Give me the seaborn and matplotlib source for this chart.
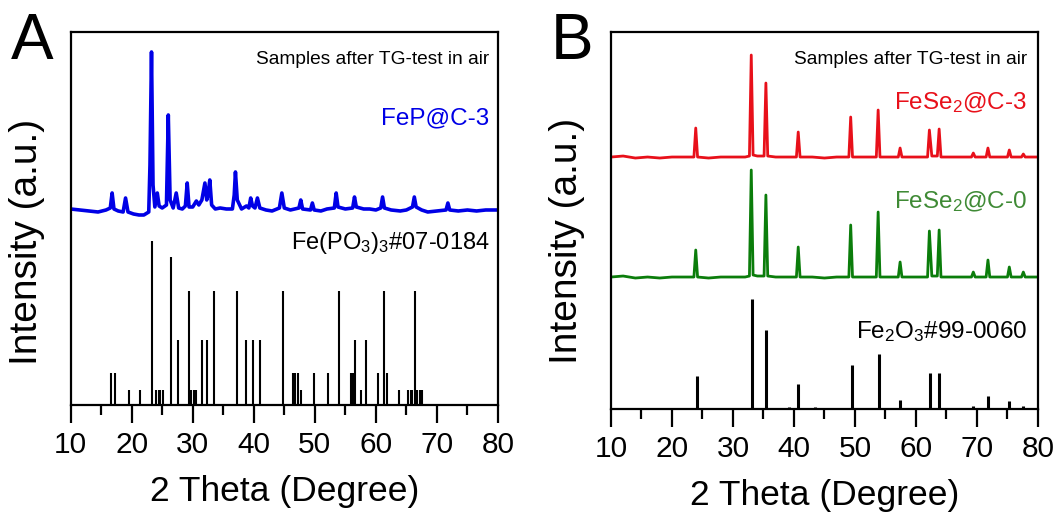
import numpy as np
import pandas as pd
import matplotlib
matplotlib.use("Agg")
import matplotlib.pyplot as plt
from matplotlib.ticker import MultipleLocator
import seaborn as sns

# ---------------- data ----------------
# Panel A: FeP@C-3 sample pattern (2theta, intensity a.u.)
fep_theta = [10, 11.5, 13, 14.5, 15.8, 16.5, 16.8, 17.1, 17.8, 18.6, 19.0, 19.4, 20.3, 21.2,
             22.0, 22.8, 23.0, 23.25, 23.5, 23.8, 24.2, 24.5, 25.0, 25.7, 26.0, 26.3, 26.8,
             27.3, 27.7, 28.3, 28.8, 29.1, 29.4, 30.0, 30.6, 31.0, 31.5, 32.0, 32.3, 32.5,
             32.8, 33.1, 33.7, 34.5, 35.5, 36.5, 36.8, 37.0, 37.3, 38.0, 38.8, 39.2, 39.5,
             39.8, 40.2, 40.6, 41.0, 42.0, 43.0, 44.2, 44.6, 45.0, 46.0, 47.4, 47.7, 48.0,
             49.3, 49.6, 49.9, 51.0, 52.0, 53.2, 53.5, 53.8, 55.0, 56.2, 56.5, 56.8, 58.0,
             59.0, 60.0, 60.8, 61.1, 61.4, 62.5, 64.0, 65.0, 66.0, 66.3, 66.6, 67.5, 68.5,
             70.0, 71.5, 71.8, 72.1, 73.5, 75.0, 76.5, 78.0, 80.0]
fep_int = [196, 195, 194, 193, 195, 197, 212, 196, 194, 193, 207, 193, 191, 190,
           190, 193, 240, 353, 220, 198, 212, 199, 197, 200, 290, 205, 197,
           212, 197, 196, 199, 222, 198, 198, 204, 200, 205, 222, 205, 210,
           225, 200, 196, 197, 196, 196, 210, 233, 205, 196, 199, 197, 207,
           199, 197, 207, 197, 195, 194, 197, 212, 197, 195, 197, 205, 196,
           195, 202, 195, 194, 196, 197, 212, 198, 196, 197, 208, 198, 196,
           196, 195, 197, 208, 197, 195, 194, 195, 198, 208, 198, 195, 193,
           194, 195, 202, 195, 194, 195, 194, 195, 195]

# Panel A: Fe(PO3)3 #07-0184 reference sticks
fepo_theta = [16.6, 17.3, 19.5, 21.3, 23.4, 24.0, 24.4, 24.7, 25.2, 26.4, 27.6, 29.4, 29.8,
              30.2, 30.6, 31.6, 32.3, 33.5, 37.3, 38.8, 39.8, 41.0, 44.8, 46.4, 46.8, 47.3,
              47.8, 49.9, 52.2, 53.9, 56.0, 56.3, 56.6, 57.6, 58.4, 60.4, 61.4, 61.9, 63.8,
              65.2, 65.7, 66.0, 66.4, 66.8, 67.2, 67.6]
fepo_int = [32, 32, 15, 15, 164, 15, 15, 15, 15, 148, 65, 114, 15,
            15, 15, 65, 65, 114, 114, 65, 65, 65, 114, 32, 32, 32,
            15, 32, 32, 114, 32, 32, 65, 15, 65, 32, 114, 32, 15,
            15, 15, 15, 114, 15, 15, 15]

# Panel B: shared 2theta sampling for the two sample patterns
fese_theta = [10, 12, 14, 16, 18, 20, 22, 23.6, 23.9, 24.2, 26, 28, 30, 32, 32.7, 33.0, 33.3,
              34.0, 35.1, 35.4, 35.7, 37, 39, 40.4, 40.7, 41.0, 43, 45, 47, 49.0, 49.3, 49.6,
              51, 53.5, 53.8, 54.1, 56, 57.1, 57.4, 57.7, 59, 61, 61.9, 62.2, 62.6, 63.5, 63.8,
              64.1, 66, 69.1, 69.4, 69.7, 71.5, 71.8, 72.1, 74, 75.0, 75.3, 75.6, 77.3, 77.6,
              77.9, 80]
fese3_int = [252, 253, 251, 252, 251, 252, 252, 252, 281, 252, 251, 252, 252, 252, 253, 354, 254,
             253, 253, 326, 253, 252, 252, 252, 277, 252, 252, 251, 252, 252, 292, 252,
             252, 252, 299, 252, 252, 252, 261, 252, 252, 252, 252, 279, 253, 253, 280,
             252, 252, 252, 256, 252, 252, 261, 252, 252, 252, 259, 252, 252, 255,
             252, 252]
fese0_int = [132, 133, 131, 132, 131, 132, 132, 132, 159, 132, 131, 132, 132, 132, 133, 239, 134,
             133, 133, 214, 133, 132, 132, 132, 162, 132, 132, 131, 132, 132, 184, 132,
             132, 132, 197, 132, 132, 132, 147, 132, 132, 132, 132, 178, 133, 133, 179,
             132, 132, 132, 137, 132, 132, 149, 132, 132, 132, 142, 132, 132, 137,
             132, 132]

# Panel B: Fe2O3 #99-0060 reference sticks
fe2o3_theta = [24.05, 33.07, 35.4, 39.2, 40.7, 43.4, 49.5, 53.9, 57.4, 62.3, 63.8, 69.4, 71.8, 75.3, 77.6]
fe2o3_int = [33, 110, 79, 2, 25, 2, 44, 55, 9, 36, 36, 3, 13, 8, 3]

xticks = [10, 20, 30, 40, 50, 60, 70, 80]

# ---------------- style ----------------
sns.set_style("ticks")
plt.rcParams["font.family"] = ["Liberation Sans", "DejaVu Sans"]
plt.rcParams["mathtext.fontset"] = "custom"
plt.rcParams["mathtext.rm"] = "Liberation Sans"
plt.rcParams["mathtext.default"] = "regular"
plt.rcParams["text.color"] = "black"
plt.rcParams["axes.labelcolor"] = "black"
plt.rcParams["xtick.color"] = "black"
plt.rcParams["ytick.color"] = "black"

BLUE = "#0000e6"
RED = "#e8101a"
GREEN = "#0b7d0b"
GREEN_TXT = "#3f8a35"

fig = plt.figure(figsize=(10.57, 5.15), dpi=100)
axA = fig.add_axes([0.0668, 0.2136, 0.4043, 0.7243])
axB = fig.add_axes([0.578, 0.2058, 0.404, 0.732])


def style_axis(ax, ymax, ylab_x, ylab_y):
    ax.set_xlim(10, 80)
    ax.set_ylim(0, ymax)
    ax.set_xticks(xticks)
    ax.set_xticklabels([str(t) for t in xticks])
    ax.xaxis.set_minor_locator(MultipleLocator(5))
    ax.set_yticks([])
    ax.tick_params(axis="x", which="major", direction="out", length=13, width=1.6,
                   labelsize=21.5, pad=6, colors="black")
    ax.tick_params(axis="x", which="minor", direction="out", length=7, width=1.6)
    for s in ax.spines.values():
        s.set_visible(True)
        s.set_linewidth(1.6)
        s.set_color("black")
    ax.set_xlabel("2 Theta (Degree)", fontsize=25.5, labelpad=11)
    ax.set_ylabel("Intensity (a.u.)", fontsize=28)
    ax.yaxis.set_label_coords(ylab_x, ylab_y)


# ---------------- panel A ----------------
dfA = pd.DataFrame({"theta": fep_theta, "intensity": fep_int})
sns.lineplot(data=dfA, x="theta", y="intensity", ax=axA, color=BLUE, lw=2.6,
             estimator=None, sort=False)
axA.vlines(fepo_theta, 0, fepo_int, color="black", lw=1.5)
style_axis(axA, 373, -0.059, 0.438)
axA.text(78.6, 345, "Samples after TG-test in air", fontsize=13.8, ha="right", va="center")
axA.text(78.6, 287, "FeP@C-3", fontsize=17.5, ha="right", va="center", color=BLUE)
axA.text(78.6, 162, "Fe(PO$_3$)$_3$#07-0184", fontsize=17, ha="right", va="center")

# ---------------- panel B ----------------
dfB = pd.DataFrame({"theta": fese_theta + fese_theta,
                    "intensity": fese3_int + fese0_int,
                    "sample": ["FeSe2@C-3"] * len(fese_theta) + ["FeSe2@C-0"] * len(fese_theta)})
sns.lineplot(data=dfB, x="theta", y="intensity", hue="sample", ax=axB,
             palette={"FeSe2@C-3": RED, "FeSe2@C-0": GREEN}, lw=2.0,
             estimator=None, sort=False, legend=False)
axB.vlines(fe2o3_theta, 0, fe2o3_int, color="black", lw=2.2)
style_axis(axB, 377, -0.061, 0.445)
axB.text(78.2, 350, "Samples after TG-test in air", fontsize=13.8, ha="right", va="center")
axB.text(78.2, 306, "FeSe$_2$@C-3", fontsize=17.5, ha="right", va="center", color=RED)
axB.text(78.2, 207, "FeSe$_2$@C-0", fontsize=17.5, ha="right", va="center", color=GREEN_TXT)
axB.text(78.2, 77, "Fe$_2$O$_3$#99-0060", fontsize=17.5, ha="right", va="center")

# panel letters
fig.text(0.010, 0.885, "A", fontsize=46, ha="left", va="baseline")
fig.text(0.521, 0.885, "B", fontsize=46, ha="left", va="baseline")

fig.savefig("out.png", dpi=100)
